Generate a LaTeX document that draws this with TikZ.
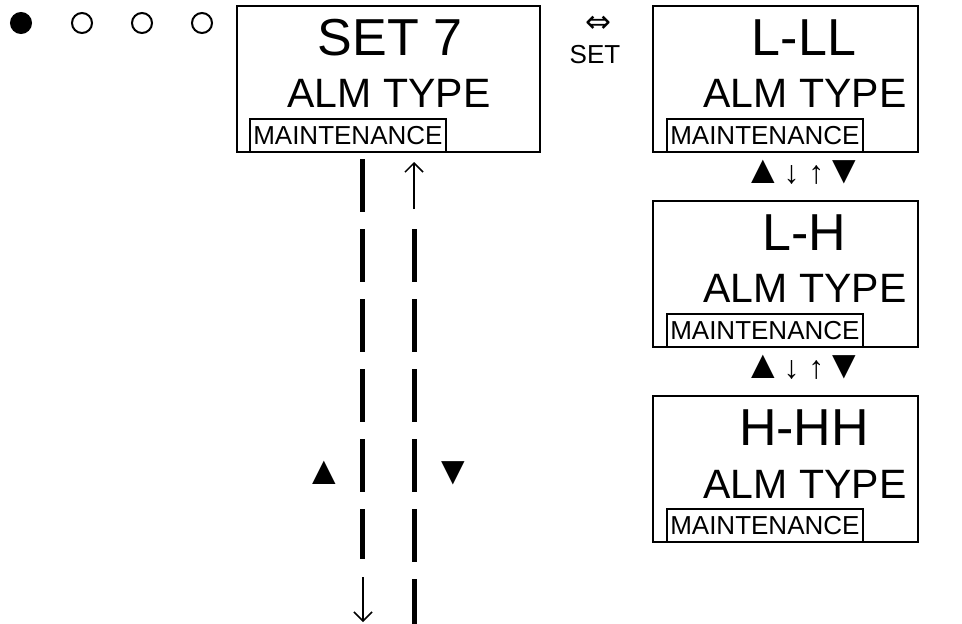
\documentclass[tikz,border=0pt]{standalone}
\usepackage{fontspec}
\setmainfont{Liberation Sans}
\newfontfamily\symfont{DejaVu Sans}
\usetikzlibrary{arrows.meta, positioning}
\newcommand{\tri}[1]{{\fontsize{40}{44}\selectfont #1}}
\newcommand{\thinar}[1]{{\fontsize{32}{36}\selectfont #1}}

\begin{document}
\begin{tikzpicture}[x=1pt, y=-1pt,
  every node/.style={font=\fontsize{26}{30}\selectfont},
  screen/.style   = {draw=black, line width=1.8pt, minimum width=303pt, minimum height=146pt, inner sep=0pt, anchor=north west},
  rscreen/.style  = {screen, minimum width=265pt},
  tag/.style      = {draw=black, line width=1.5pt, minimum height=33pt, inner sep=3.5pt, anchor=south west, font=\fontsize{26}{30}\selectfont},
  big/.style      = {anchor=base, font=\fontsize{52}{60}\selectfont},
  mid/.style      = {anchor=base, font=\fontsize{41}{50}\selectfont},
  lamp/.style     = {circle, draw=black, line width=2pt, minimum size=20pt, inner sep=0pt},
  dashline/.style = {line width=5pt, dash pattern=on 53pt off 17pt},
  thinarrow/.style= {-{Straight Barb[length=9pt, width=18pt, line width=1.5pt]}, line width=1.6pt},
  keys/.style     = {anchor=center, inner sep=0pt, font=\fontsize{24}{28}\selectfont}
]
\useasboundingbox (0,0) rectangle (962,624);

%% lamps
\node[lamp, fill=black] (lamp1) at ( 21,23) {};
\node[lamp]             (lamp2) at ( 82,23) {};
\node[lamp]             (lamp3) at (142,23) {};
\node[lamp]             (lamp4) at (202,23) {};

%% left screen
\node[screen] (set7) at (236,5) {};
\node[big] (set7t) at (390, 55) {SET 7};
\node[mid] (set7a) at (389,107) {ALM TYPE};
\node[tag] (set7m) at ([xshift=13pt]set7.south west) {MAINTENANCE};

%% SET key
\node[anchor=center, font=\symfont\fontsize{31}{34}\selectfont] (swap) at (598,24) {⇔};
\node[anchor=base] (setkey) at (595,63) {SET};

%% right screens
\node[rscreen] (ll) at (652,5) {};
\node[big] (llt) at (804, 55) {L-LL};
\node[mid] (lla) at (805,107) {ALM TYPE};
\node[tag] (llm) at ([xshift=14pt]ll.south west) {MAINTENANCE};

\node[keys] (k1) at (804,172) {\tri{▲}\thinar{↓\hspace{9pt}↑}\tri{▼}};

\node[rscreen] (lh) at (652,200) {};
\node[big] (lht) at (804,250) {L-H};
\node[mid] (lha) at (805,302) {ALM TYPE};
\node[tag] (lhm) at ([xshift=14pt]lh.south west) {MAINTENANCE};

\node[keys] (k2) at (804,367) {\tri{▲}\thinar{↓\hspace{9pt}↑}\tri{▼}};

\node[rscreen] (hh) at (652,395) {};
\node[big] (hht) at (804,445) {H-HH};
\node[mid] (hha) at (805,498) {ALM TYPE};
\node[tag] (hhm) at ([xshift=14pt]hh.south west) {MAINTENANCE};

%% scroll lines below left screen
\coordinate (dnA) at (362,159);
\coordinate (dnB) at (362,559);
\coordinate (dnC) at (363,577);
\coordinate (dnD) at (363,622);
\coordinate (upA) at (414,624);
\coordinate (upB) at (414,229);
\coordinate (upC) at (414,209);
\coordinate (upD) at (414,162);

\draw[dashline] (dnA) -- (dnB);
\draw[thinarrow] (dnC) -- (dnD);
\draw[dashline] (upB) -- (upA);
\draw[thinarrow] (upC) -- (upD);

\node[keys] (kup) at (324,473) {\tri{▲}};
\node[keys] (kdn) at (453,473) {\tri{▼}};
\end{tikzpicture}
\end{document}
